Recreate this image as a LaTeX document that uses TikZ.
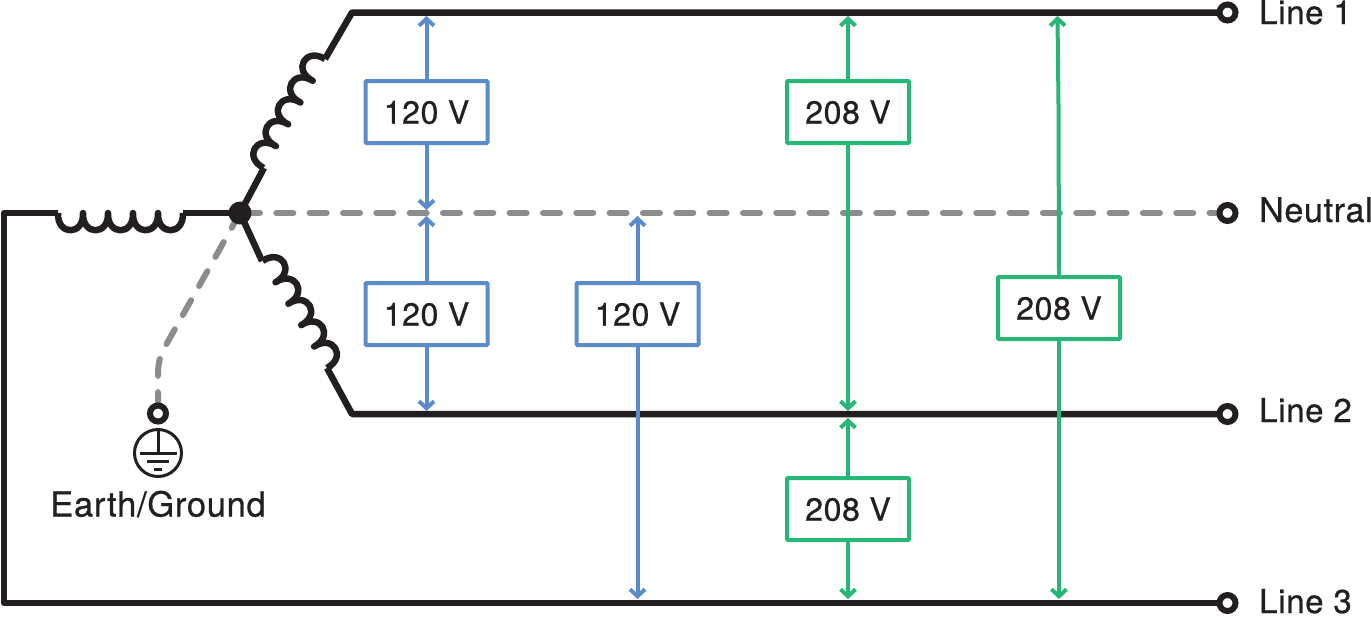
\documentclass[tikz,border=0pt]{standalone}
\usepackage{fontspec}
\setmainfont{TeX Gyre Heros}
\newfontfamily\labelfont[FakeBold=0.7,LetterSpace=2]{TeX Gyre Heros}
\usetikzlibrary{arrows.meta,backgrounds}
\definecolor{wireblack}{HTML}{231F20}
\definecolor{neutralgray}{HTML}{8A8C8E}
\definecolor{voltblue}{HTML}{5B8BCB}
\definecolor{voltgreen}{HTML}{26B675}

\begin{document}
\begin{tikzpicture}[
	x=1pt,
	y=-1pt,
	wire/.style={draw=wireblack, line width=6.5pt, line join=round},
	thin wire/.style={draw=wireblack, line width=3pt},
	neutral/.style={draw=neutralgray, line width=6pt, line cap=round, dash pattern=on 17pt off 16.33pt},
	terminal/.style={circle, draw=wireblack, line width=6pt, fill=white, minimum size=16pt, inner sep=0pt},
	label/.style={font=\labelfont\fontsize{33}{33}\selectfont, text=wireblack, anchor=base west, inner sep=0pt},
	voltbox/.style={rectangle, draw=#1, line width=4pt, fill=white, rounded corners=1pt,
		minimum width=122pt, minimum height=62pt, inner sep=0pt, text=wireblack, text depth=0pt,
		font=\labelfont\fontsize{32}{32}\selectfont},
	blue arrow/.style={draw=voltblue, line width=4pt, -{Straight Barb[length=7pt, width=15pt, line width=4pt]}},
	green arrow/.style={draw=voltgreen, line width=4pt, -{Straight Barb[length=7pt, width=15pt, line width=4pt]}},
	coil/.pic={
		\draw[wire] (0,0) .. controls (-1,23) and (26,23) .. (25,0)
			.. controls (24,23) and (51,23) .. (50,0)
			.. controls (49,23) and (76,23) .. (75,0)
			.. controls (74,23) and (101,23) .. (100,0)
			.. controls (99,23) and (126,23) .. (125,0);
	}
]

\useasboundingbox (0,0) rectangle (1371,616);

\node[circle, fill=wireblack, minimum size=23pt, inner sep=0pt] (star) at (240,213) {};

\node[terminal] (lone) at (1227.5,12.5) {};
\node[terminal] (neut) at (1227.5,213) {};
\node[terminal] (ltwo) at (1227.5,414) {};
\node[terminal] (lthree) at (1227.5,603) {};
\node[terminal] (earth) at (158,413.5) {};

\node[label] at (1259,24) {Line 1};
\node[label, font=\labelfont\fontsize{34}{34}\selectfont] at (1259,222) {Neutral};
\node[label] at (1259,422) {Line 2};
\node[label] at (1259,613) {Line 3};

\node[circle, thin wire, draw, minimum size=47pt, inner sep=0pt] (gnd) at (158,453) {};
\node[label, anchor=base, font=\labelfont\fontsize{34.5}{34.5}\selectfont] (earthlabel) at (158,516.5) {Earth/Ground};
\draw[thin wire] (gnd.north) -- (gnd.center);
\draw[thin wire] (140,453) -- (177,453);
\draw[thin wire] (147,461) -- (169,461);
\draw[thin wire] (154,469) -- (162,469);

\node[voltbox=voltblue] (bone) at (426.5,112) {120 V};
\node[voltbox=voltblue] (btwo) at (426.5,314) {120 V};
\node[voltbox=voltblue] (bthree) at (637.5,314) {120 V};
\node[voltbox=voltgreen] (gone) at (848,112) {208 V};
\node[voltbox=voltgreen] (gtwo) at (848,509) {208 V};
\node[voltbox=voltgreen] (gthree) at (1059,308) {208 V};

\coordinate (cornerup) at (352,12.5);
\coordinate (cornerdown) at (352,414);
\coordinate (cornerleft) at (4,213);
\coordinate (cornerbottom) at (4,603);
\coordinate (coilh) at (58,213);
\coordinate (coilhend) at (183,213);
\coordinate (coilu) at (325,59);
\coordinate (coiluend) at (264,168);
\coordinate (coild) at (327,368);
\coordinate (coildend) at (262,261);

\begin{scope}[on background layer]
\draw[neutral, dash phase=30.33pt] (star.center) -- (neut.center);
\draw[neutral] (star.center) -- (166,345) .. controls (160,356) and (158,362) .. (158,375) -- (earth.center);

\draw[wire] (lone.center) -- (cornerup) -- (coilu);
\draw[wire] (coiluend) -- (star.center);
\draw[wire] (ltwo.center) -- (cornerdown) -- (coild);
\draw[wire] (coildend) -- (star.center);
\draw[wire] (lthree.center) -- (cornerbottom) -- (cornerleft) -- (coilh);
\draw[wire] (coilhend) -- (star.center);
\pic at (coilh) {coil};
\pic[rotate=240.6] at (coilu) {coil};
\pic[rotate=121] at (coild) {coil};

\draw[blue arrow] (bone.north) -- (426.5,16);
\draw[blue arrow] (bone.south) -- (426.5,210);
\draw[blue arrow] (btwo.north) -- (426.5,216);
\draw[blue arrow] (btwo.south) -- (426.5,411);
\draw[blue arrow] (bthree.north) -- (637.5,216);
\draw[blue arrow] (bthree.south) -- (637.5,599);

\draw[green arrow] (gone.north) -- (848,16);
\draw[green arrow] (gone.south) -- (848,411);
\draw[green arrow] (gtwo.north) -- (848,418);
\draw[green arrow] (gtwo.south) -- (848,599);
\draw[green arrow] (gthree.north) -- (1058.5,105) -- (1057.5,16);
\draw[green arrow] (gthree.south) -- (1059,599);
\end{scope}

\end{tikzpicture}
\end{document}
